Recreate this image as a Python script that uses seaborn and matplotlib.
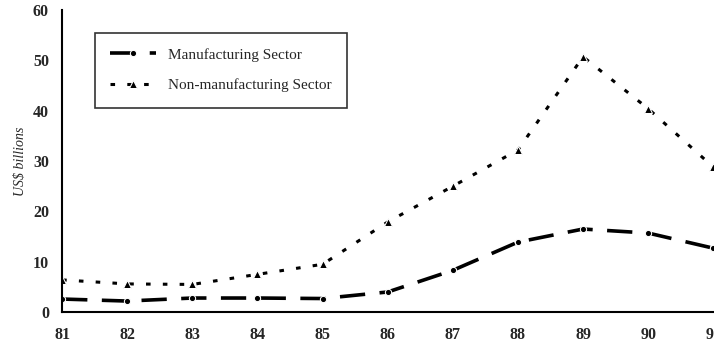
import pandas as pd
import numpy as np
import matplotlib
matplotlib.use("Agg")
import matplotlib.pyplot as plt
import seaborn as sns

years = [81, 82, 83, 84, 85, 86, 87, 88, 89, 90, 91]
year_labels = ["81", "82", "83", "84", "85", "86", "87", "88", "89", "90", "91"]
manufacturing = [2.6, 2.2, 2.8, 2.8, 2.7, 4.0, 8.3, 13.9, 16.5, 15.7, 12.7]
non_manufacturing = [6.4, 5.6, 5.5, 7.5, 9.5, 17.9, 25.0, 32.2, 50.7, 40.4, 28.8]


def main():
    sns.set_style("white")
    plt.rcParams["font.family"] = ["Liberation Serif", "DejaVu Serif"]

    fig = plt.figure(figsize=(7.14, 3.43), dpi=100)
    ax = fig.add_axes([0.087, 0.090, 0.912, 0.881])

    df = pd.DataFrame({"year": years, "man": manufacturing, "non": non_manufacturing})

    sns.lineplot(data=df, x="year", y="man", ax=ax, color="black", lw=2.6,
                 marker="o", markersize=4.5, label="Manufacturing Sector")
    sns.lineplot(data=df, x="year", y="non", ax=ax, color="black", lw=2.2,
                 marker="^", markersize=6, label="Non-manufacturing Sector")
    ax.lines[0].set_dashes([7, 4])
    ax.lines[1].set_dashes([1.5, 4])

    ax.set_xlim(81, 91)
    ax.set_ylim(0, 60)
    ax.set_xticks(years)
    ax.set_xticklabels(year_labels)
    ax.set_yticks([0, 10, 20, 30, 40, 50, 60])
    ax.set_xlabel("")
    ax.set_ylabel("US$ billions", fontstyle="italic", fontsize=10)
    ax.tick_params(direction="inout", length=7, width=1.2, labelsize=11.5, pad=6)
    ax.tick_params(axis="x", pad=7)
    for t in ax.get_xticklabels() + ax.get_yticklabels():
        t.set_fontweight("bold")
    sns.despine(ax=ax)
    for s in ["left", "bottom"]:
        ax.spines[s].set_color("black")
        ax.spines[s].set_linewidth(1.5)

    leg = ax.legend(loc="upper left", bbox_to_anchor=(0.038, 0.95), frameon=True,
                    fancybox=False, edgecolor="black", fontsize=11,
                    handlelength=3.0, borderpad=1.0, labelspacing=1.1)
    leg.get_frame().set_linewidth(1.2)

    fig.savefig("out.png", dpi=100)


if __name__ == "__main__":
    main()
